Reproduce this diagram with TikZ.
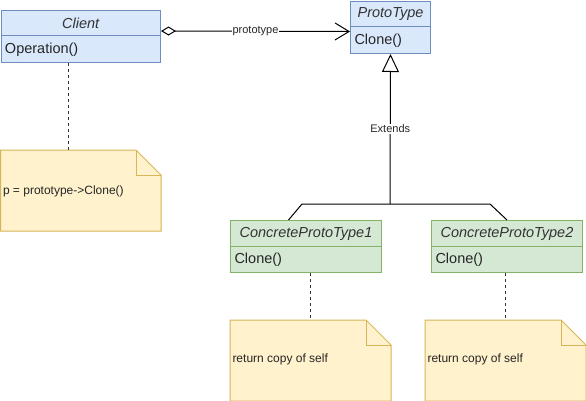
\documentclass[tikz,border=0pt]{standalone}
\usepackage{fontspec}
\setmainfont{Liberation Sans}
\usetikzlibrary{arrows.meta,calc}
\definecolor{bluefill}{HTML}{DAE8FC}
\definecolor{bluedraw}{HTML}{6C8EBF}
\definecolor{greenfill}{HTML}{D5E8D4}
\definecolor{greendraw}{HTML}{82B366}
\definecolor{notefill}{HTML}{FFF2CC}
\definecolor{notedraw}{HTML}{D6B656}
\begin{document}
\begin{tikzpicture}[x=1pt,y=-1pt,line width=1pt,
  classbox/.style={rectangle,inner sep=0pt,anchor=north west},
  titletext/.style={inner sep=0pt,font=\fontsize{14.5}{17}\selectfont\itshape,text=black!80},
  bodytext/.style={inner sep=0pt,anchor=west,font=\fontsize{14.5}{17}\selectfont,text=black!85},
  notebox/.style={rectangle,inner sep=0pt,anchor=north west},
  notetext/.style={inner sep=0pt,anchor=west,font=\fontsize{12}{14}\selectfont,text=black!85},
  edgelabel/.style={inner sep=1pt,fill=white,font=\fontsize{11}{13}\selectfont,text=black!85},
  dashline/.style={dash pattern=on 3pt off 3pt,black!80},
]
\useasboundingbox (0,0) rectangle (586,401);

% ---------- classes ----------
\newcommand{\umlclass}[8]{%
  % #1 name, #2 x, #3 y, #4 width, #5 fill, #6 draw, #7 title, #8 body
  \node[classbox,fill=#5,draw=#6,minimum width=#4pt,minimum height=52pt] (#1) at (#2,#3) {};
  \draw[#6] ($(#1.north west)+(0,26)$) -- ($(#1.north east)+(0,26)$);
  \node[titletext] (#1-t) at ($(#1.north)+(0,13.5)$) {#7};
  \node[bodytext] (#1-b) at ($(#1.north west)+(4,39.5)$) {#8};
}
\umlclass{cli}{0.5}{10}{159.5}{bluefill}{bluedraw}{Client}{Operation()}
\umlclass{proto}{350}{1}{80}{bluefill}{bluedraw}{ProtoType}{Clone()}
\umlclass{cpt1}{230}{220}{151}{greenfill}{greendraw}{ConcreteProtoType1}{Clone()}
\umlclass{cpt2}{431}{220}{151}{greenfill}{greendraw}{ConcreteProtoType2}{Clone()}

% ---------- notes ----------
\newcommand{\umlnote}[6]{%
  % #1 name, #2 x, #3 y, #4 width, #5 text, #6 text y offset
  \node[notebox,minimum width=#4pt,minimum height=80pt] (#1) at (#2,#3) {};
  \draw[notedraw,fill=notefill] (#1.north west) -- ($(#1.north east)+(-25,0)$)
     -- ($(#1.north east)+(0,25)$) -- (#1.south east) -- (#1.south west) -- cycle;
  \draw[notedraw] ($(#1.north east)+(-25,0)$) -- ($(#1.north east)+(-25,25)$) -- ($(#1.north east)+(0,25)$);
  \node[notetext] (#1-t) at ($(#1.north west)+(2,#6)$) {#5};
}
\umlnote{n1}{0.5}{150}{159.5}{p = prototype->Clone()}{41}
\umlnote{n2}{230}{320}{160}{return copy of self}{39}
\umlnote{n3}{425}{320}{160}{return copy of self}{39}

% ---------- connectors ----------
\draw[{Diamond[open,length=15pt,width=9pt,line width=1pt]}-{Straight Barb[length=14pt,width=17pt,line width=1pt]}]
  ([yshift=-21pt]cli.north east) -- node[edgelabel]{prototype} ([yshift=-4pt]proto.west);

\coordinate (busL) at (302,204);
\coordinate (busM) at (390,204);
\coordinate (busR) at (490,204);
\draw ([xshift=-17.5pt]cpt1.north) -- (busL) -- (busR) -- (cpt2.north);
\draw[-{Triangle[open,length=18pt,width=17pt,line width=1pt]}] (busM) -- node[edgelabel,pos=0.5]{Extends} (proto.south);

\draw[dashline] ([xshift=-12pt]cli.south) -- ([xshift=-12pt]n1.north);
\draw[dashline] (cpt1.south -| n2.north) -- (n2.north);
\draw[dashline] (cpt2.south -| n3.north) -- (n3.north);
\end{tikzpicture}
\end{document}
